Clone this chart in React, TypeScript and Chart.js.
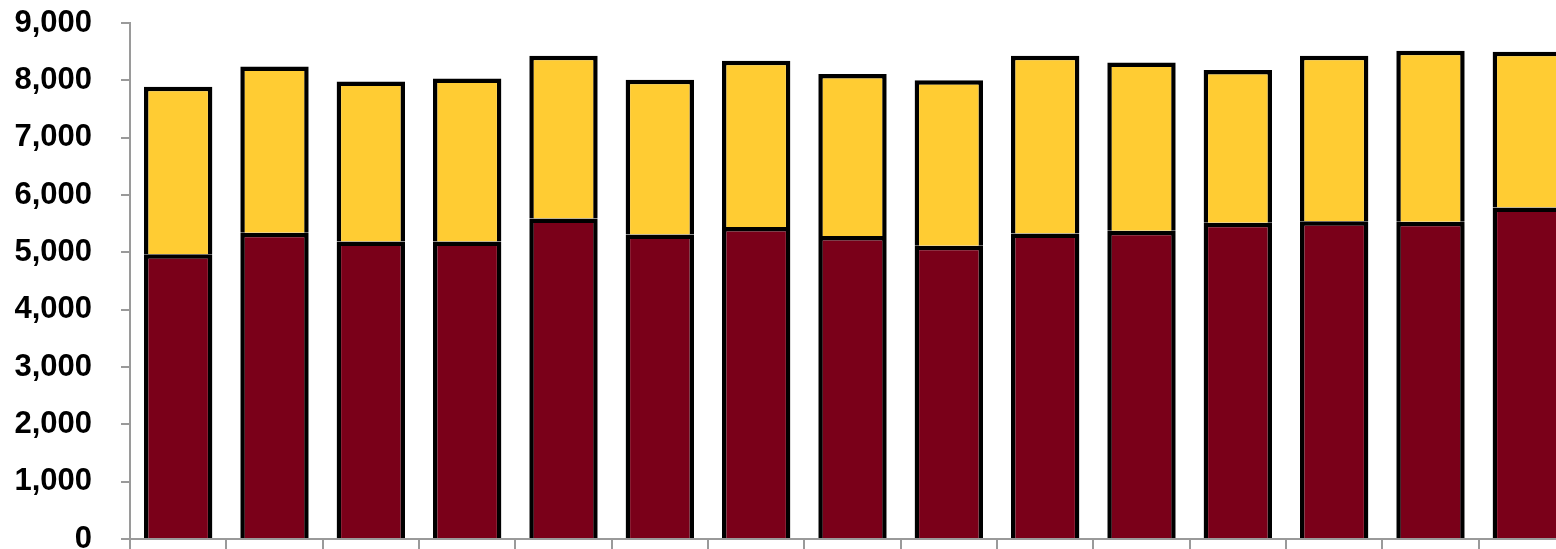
import React, { useEffect, useRef } from "react";
import { Chart, registerables } from "chart.js";

Chart.register(...registerables);

// Fifteen periods, stacked: lower (maroon) and upper (gold) components.
const categories = [
  "2005", "2006", "2007", "2008", "2009", "2010", "2011", "2012",
  "2013", "2014", "2015", "2016", "2017", "2018", "2019",
];

const lowerValues = [
  4965, 5340, 5190, 5190, 5590, 5310, 5440, 5285, 5115, 5330, 5375, 5515, 5540, 5535, 5780,
];

const upperValues = [
  2925, 2900, 2790, 2840, 2840, 2700, 2900, 2825, 2885, 3100, 2935, 2665, 2890, 2980, 2720,
];

const yTicks = [0, 1000, 2000, 3000, 4000, 5000, 6000, 7000, 8000, 9000];

const MAROON = "#7A0019";
const GOLD = "#FFCC33";
const AXIS_GREY = "#9a9a9a";

export default function App() {
  const canvasRef = useRef<HTMLCanvasElement | null>(null);

  useEffect(() => {
    const canvas = canvasRef.current;
    if (!canvas) return;

    const chart = new Chart(canvas, {
      type: "bar",
      data: {
        labels: categories,
        datasets: [
          {
            label: "Lower",
            data: lowerValues,
            backgroundColor: MAROON,
            borderColor: "#000000",
            borderWidth: 4.5,
            borderSkipped: "bottom",
            categoryPercentage: 1,
            barPercentage: 0.71,
          },
          {
            label: "Upper",
            data: upperValues,
            backgroundColor: GOLD,
            borderColor: "#000000",
            borderWidth: { top: 4.5, left: 4.5, right: 4.5, bottom: 0 },
            borderSkipped: "bottom",
            categoryPercentage: 1,
            barPercentage: 0.71,
          },
        ],
      },
      options: {
        responsive: false,
        animation: false,
        devicePixelRatio: 1,
        layout: { padding: { top: 23, right: 25, left: 0, bottom: 0 } },
        plugins: {
          legend: { display: false },
          tooltip: { enabled: false },
        },
        scales: {
          x: {
            stacked: true,
            offset: true,
            z: 1,
            grid: {
              display: true,
              offset: true,
              drawOnChartArea: false,
              drawTicks: true,
              tickLength: 12,
              color: AXIS_GREY,
              lineWidth: 2,
            },
            border: { display: true, color: AXIS_GREY, width: 2 },
            ticks: { display: false },
            afterFit: (scale: any) => {
              scale.height = 21;
            },
          },
          y: {
            stacked: true,
            min: 0,
            max: 9000,
            afterBuildTicks: (scale: any) => {
              scale.ticks = yTicks.map((v) => ({ value: v }));
            },
            grid: {
              display: true,
              drawOnChartArea: false,
              drawTicks: true,
              tickLength: 9,
              color: AXIS_GREY,
              lineWidth: 2,
            },
            border: { display: true, color: AXIS_GREY, width: 2 },
            ticks: {
              padding: 29,
              color: "#000000",
              font: {
                family: "'Liberation Sans', Arial, sans-serif",
                weight: "bold",
                size: 31,
              },
              callback: (v: any) => Number(v).toLocaleString("en-US"),
            },
            afterFit: (scale: any) => {
              scale.width = 130;
              scale.paddingTop = 0;
              scale.paddingBottom = 0;
            },
          },
        },
      },
    });

    return () => {
      chart.destroy();
    };
  }, []);

  return (
    <div
      style={{
        position: "absolute",
        left: 0,
        top: 0,
        width: 1556,
        height: 549,
        overflow: "hidden",
        background: "#ffffff",
      }}
    >
      <canvas ref={canvasRef} width={1600} height={560} style={{ display: "block" }} />
    </div>
  );
}
